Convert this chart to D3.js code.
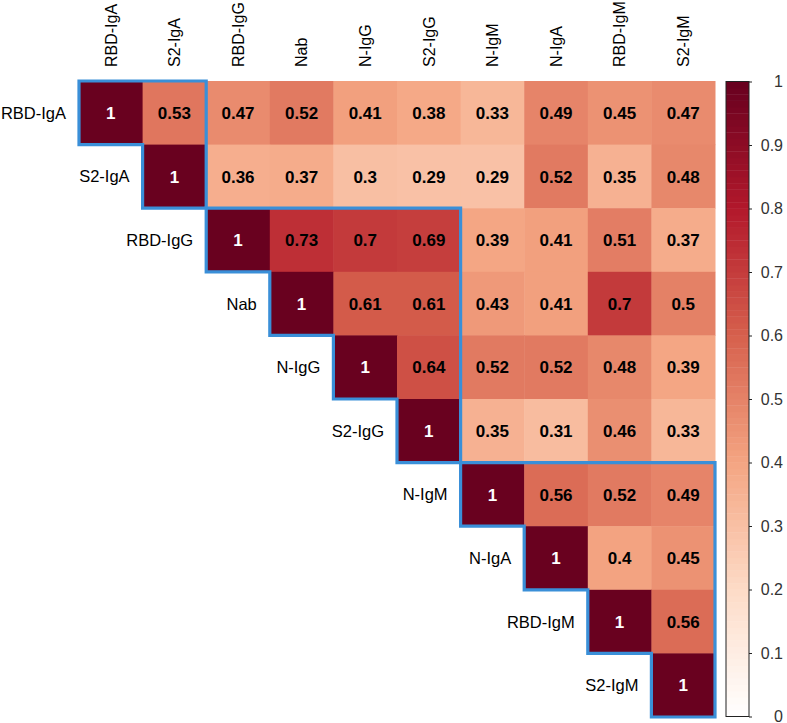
<!DOCTYPE html>
<html>
<head>
<meta charset="utf-8">
<script src="https://cdn.jsdelivr.net/npm/d3@7"></script>
<style>
  body { margin: 0; background: #fff; }
  text { font-family: "Liberation Sans", Arial, sans-serif; }
</style>
</head>
<body>
<script>
var names = ["RBD-IgA", "S2-IgA", "RBD-IgG", "Nab", "N-IgG", "S2-IgG", "N-IgM", "N-IgA", "RBD-IgM", "S2-IgM"];

// upper triangle, each row starts at the diagonal
var rows = [
  [1, 0.53, 0.47, 0.52, 0.41, 0.38, 0.33, 0.49, 0.45, 0.47],
  [1, 0.36, 0.37, 0.3, 0.29, 0.29, 0.52, 0.35, 0.48],
  [1, 0.73, 0.7, 0.69, 0.39, 0.41, 0.51, 0.37],
  [1, 0.61, 0.61, 0.43, 0.41, 0.7, 0.5],
  [1, 0.64, 0.52, 0.52, 0.48, 0.39],
  [1, 0.35, 0.31, 0.46, 0.33],
  [1, 0.56, 0.52, 0.49],
  [1, 0.4, 0.45],
  [1, 0.56],
  [1]
];

// blocks outlined in blue (first and last index)
var groups = [[0, 1], [2, 5], [6, 9]];

var legendTicks = [0, 0.1, 0.2, 0.3, 0.4, 0.5, 0.6, 0.7, 0.8, 0.9, 1];

const w = 787, h = 723;
const svg = d3.select("body").append("svg")
  .attr("width", w)
  .attr("height", h);

var x = d3.scaleBand().domain(names).range([79, 715]);
var y = d3.scaleBand().domain(names).range([81, 717]);
var cell = x.bandwidth();

// corrplot RdBu, positive half only
var ramp = d3.scaleLinear()
  .domain([0, 0.2, 0.4, 0.6, 0.8, 1])
  .range(["#FFFFFF", "#FDDBC7", "#F4A582", "#D6604D", "#B2182B", "#67001F"])
  .interpolate(d3.interpolateRgb);
// 100 steps like the legend
function color(v) {
  var b = Math.min(99, Math.floor(v * 100 + 1e-9));
  return ramp((b + 0.5) / 100);
}

var cells = [];
rows.forEach((r, i) => {
  r.forEach((v, k) => {
    cells.push({ row: names[i], col: names[i + k], v: v, diag: k == 0 });
  });
});

svg.selectAll("rect.cell")
  .data(cells)
  .enter()
  .append("rect")
  .attr("class", "cell")
  .attr("x", d => x(d.col))
  .attr("y", d => y(d.row))
  .attr("width", cell + 0.5)
  .attr("height", cell + 0.5)
  .attr("fill", d => color(d.v));

svg.selectAll("text.val")
  .data(cells)
  .enter()
  .append("text")
  .attr("class", "val")
  .attr("x", d => x(d.col) + cell / 2)
  .attr("y", d => y(d.row) + cell / 2)
  .attr("dy", "0.36em")
  .attr("text-anchor", "middle")
  .style("font-size", "17px")
  .style("font-weight", "bold")
  .attr("fill", d => d.diag ? "#fff" : "#000")
  .text(d => d.v);

// column labels on top, rotated
svg.selectAll("text.colLab")
  .data(names)
  .enter()
  .append("text")
  .attr("class", "colLab")
  .attr("transform", d => "translate(" + (x(d) + cell / 2) + ",67) rotate(-90)")
  .attr("dy", "0.36em")
  .style("font-size", "16px")
  .text(d => d);

// row labels next to the diagonal
svg.selectAll("text.rowLab")
  .data(names)
  .enter()
  .append("text")
  .attr("class", "rowLab")
  .attr("x", d => x(d) - 13)
  .attr("y", d => y(d) + cell / 2)
  .attr("dy", "0.36em")
  .attr("text-anchor", "end")
  .style("font-size", "16.5px")
  .text(d => d);

// blue staircase outlines
function groupPath(g) {
  var a = g[0], b = g[1];
  var p = d3.path();
  var xs = i => x.range()[0] + i * cell;
  var ys = i => y.range()[0] + i * cell;
  p.moveTo(xs(a), ys(a));
  p.lineTo(xs(b + 1), ys(a));
  p.lineTo(xs(b + 1), ys(b + 1));
  for (var i = b; i > a; i--) {
    p.lineTo(xs(i), ys(i + 1));
    p.lineTo(xs(i), ys(i));
  }
  p.lineTo(xs(a), ys(a + 1));
  p.closePath();
  return p.toString();
}

svg.selectAll("path.grp")
  .data(groups)
  .enter()
  .append("path")
  .attr("class", "grp")
  .attr("d", groupPath)
  .attr("fill", "none")
  .attr("stroke", "#3a8fd8")
  .attr("stroke-width", 3.2)
  .attr("stroke-linejoin", "miter");

// colour legend
var ly = d3.scaleLinear().domain([0, 1]).range([716.5, 81.5]);
var bins = d3.range(100).map(i => i / 100);
var lx = 726, lw = 23;

svg.selectAll("rect.bin")
  .data(bins)
  .enter()
  .append("rect")
  .attr("class", "bin")
  .attr("x", lx)
  .attr("y", d => ly(d + 0.01))
  .attr("width", lw)
  .attr("height", ly(0) - ly(0.01) + 0.4)
  .attr("fill", d => ramp(d + 0.005));

svg.append("rect")
  .attr("x", lx)
  .attr("y", ly(1))
  .attr("width", lw)
  .attr("height", ly(0) - ly(1))
  .attr("fill", "none")
  .attr("stroke", "#222")
  .attr("stroke-width", 1);

var axis = svg.append("g")
  .attr("transform", "translate(" + (lx + lw) + ",0)")
  .call(d3.axisRight(ly).tickValues(legendTicks).tickSize(3).tickFormat(d3.format("")));
axis.select(".domain").remove();
axis.selectAll(".tick line").attr("stroke", "#222");
axis.selectAll(".tick text")
  .attr("x", 34)
  .attr("text-anchor", "end")
  .attr("fill", "#333")
  .style("font-size", "16px")
  .style("font-family", "'Liberation Sans', Arial, sans-serif");
</script>
</body>
</html>
